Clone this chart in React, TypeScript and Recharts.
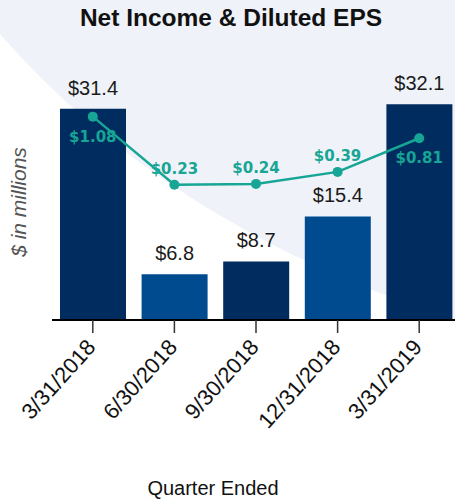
import { ComposedChart, Bar, Line, XAxis, YAxis, Cell, LabelList } from 'recharts'

const quarters = ['3/31/2018', '6/30/2018', '9/30/2018', '12/31/2018', '3/31/2019']
const netIncome = [31.4, 6.8, 8.7, 15.4, 32.1]
const dilutedEps = [1.08, 0.23, 0.24, 0.39, 0.81]

const data = quarters.map((q, i) => ({ quarter: q, income: netIncome[i], eps: dilutedEps[i] }))

const barColors = ['#002c5f', '#004a8f']
const teal = '#17a595'
const sans = '"Liberation Sans", Arial, sans-serif'

function QuarterTick(props: any) {
  const { x, y, payload } = props
  return (
    <g transform={`translate(${x + 4},${y + 13})`}>
      <text
        x={0}
        y={0}
        textAnchor="end"
        transform="rotate(-48)"
        fill="#111"
        fontSize={22}
        fontFamily={sans}
      >
        {payload.value}
      </text>
    </g>
  )
}

function EpsLabel(props: any) {
  const { x, y, value, index } = props
  // first and last point carry their label under the dot
  const below = index === 0 || index === quarters.length - 1
  return (
    <text
      x={x}
      y={below ? y + 25 : y - 11}
      textAnchor="middle"
      fill={teal}
      fontSize={15}
      fontWeight="bold"
      fontFamily='"DejaVu Sans", sans-serif'
    >
      {`$${Number(value).toFixed(2)}`}
    </text>
  )
}

export default function App() {
  return (
    <div
      style={{
        position: 'absolute',
        left: 0,
        top: 0,
        width: 455,
        height: 501,
        overflow: 'hidden',
        background: '#fff',
      }}
    >
      <svg width={455} height={501} style={{ position: 'absolute', left: 0, top: 0 }}>
        <path d="M0,34 Q168,227 455,320 L455,0 L0,0 Z" fill="#eff2f8" />
        <text x={231} y={26} textAnchor="middle" fontSize={24.5} fontWeight="bold" fill="#111" fontFamily={sans}>
          Net Income &amp; Diluted EPS
        </text>
        <text
          transform="translate(26,202) rotate(-90)"
          textAnchor="middle"
          fontSize={21}
          fontStyle="italic"
          fill="#555"
          fontFamily={sans}
        >
          $ in millions
        </text>
        <text x={213} y={495} textAnchor="middle" fontSize={20} fill="#111" fontFamily={sans}>
          Quarter Ended
        </text>
      </svg>
      <div style={{ position: 'absolute', left: 0, top: 0 }}>
        <ComposedChart width={460} height={501} data={data} margin={{ top: 51, right: 0, bottom: 0, left: 52 }}>
          <XAxis
            dataKey="quarter"
            height={181}
            interval={0}
            axisLine={{ stroke: '#000', strokeWidth: 2 }}
            tickLine={{ stroke: '#333', strokeWidth: 1.5 }}
            tickSize={13}
            tick={<QuarterTick />}
          />
          <YAxis yAxisId="left" domain={[0, 40]} hide />
          <YAxis yAxisId="right" orientation="right" domain={[-1.46, 1.9]} hide />
          <Bar yAxisId="left" dataKey="income" barSize={66} isAnimationActive={false}>
            {data.map((_, i) => (
              <Cell key={i} fill={barColors[i % 2]} />
            ))}
            <LabelList
              dataKey="income"
              position="top"
              offset={14}
              fill="#1a1a1a"
              fontSize={20}
              fontFamily={sans}
              formatter={(v: any) => `$${Number(v).toFixed(1)}`}
            />
          </Bar>
          <Line
            yAxisId="right"
            dataKey="eps"
            stroke={teal}
            strokeWidth={2.5}
            dot={{ r: 5, fill: teal, stroke: teal, strokeWidth: 0 }}
            activeDot={false}
            isAnimationActive={false}
          >
            <LabelList dataKey="eps" content={<EpsLabel />} />
          </Line>
        </ComposedChart>
      </div>
    </div>
  )
}
